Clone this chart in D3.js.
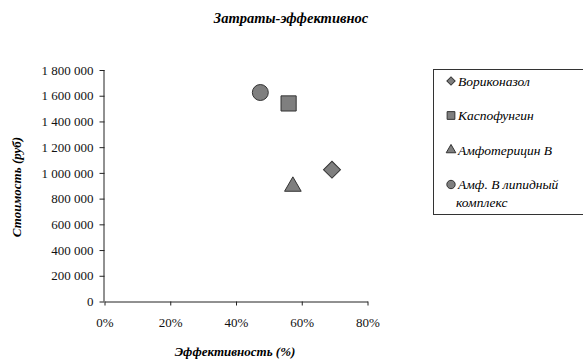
<!DOCTYPE html>
<html>
<head>
<meta charset="utf-8">
<script src="https://cdn.jsdelivr.net/npm/d3@7"></script>
<style>
    body { margin: 0; background: #fff; }
</style>
</head>
<body>
<svg id="chart" width="583" height="361"></svg>
<script>
;(function () {
    // data
    const drugs = ["Вориконазол", "Каспофунгин", "Амфотерицин В", "Амф. В липидный комплекс"]
    const effectiveness = [0.692, 0.560, 0.573, 0.474]
    const cost = [1025000, 1540000, 910000, 1625000]
    const shapes = ["diamond", "square", "triangle", "circle"]
    const xTicks = [0, 0.2, 0.4, 0.6, 0.8]
    const yTicks = [0, 200000, 400000, 600000, 800000, 1000000, 1200000, 1400000, 1600000, 1800000]

    const serif = "Times New Roman, Liberation Serif, Times, serif"
    const svg = d3.select("#chart").attr("font-family", serif)

    const xPositionScale = d3.scaleLinear().domain([0, 0.8]).range([104.5, 367.5])
    const yPositionScale = d3.scaleLinear().domain([0, 1800000]).range([301.5, 70])

    const ru = d3.formatLocale({ decimal: ",", thousands: "\u00a0", grouping: [3], currency: ["", " руб."] })
    const fmtCost = ru.format(",.0f")

    const symbolFor = {
        diamond: d3.symbolSquare,
        square: d3.symbolSquare,
        triangle: d3.symbolTriangle,
        circle: d3.symbolCircle
    }
    const bigSize = { diamond: 144, square: 230, triangle: 120, circle: 200 }
    const smallSize = { diamond: 34, square: 60, triangle: 40, circle: 55 }
    const rotation = { diamond: 45, square: 0, triangle: 0, circle: 0 }

    // title
    svg.append("text")
        .attr("x", 291)
        .attr("y", 23)
        .attr("text-anchor", "middle")
        .attr("font-family", serif)
        .attr("font-size", 14.5)
        .attr("font-weight", "bold")
        .attr("font-style", "italic")
        .text("Затраты-эффективнос")

    // axes
    const yAxis = svg.append("g")
        .attr("class", "axis y-axis")
        .attr("transform", `translate(${xPositionScale(0)},0)`)
        .call(d3.axisLeft(yPositionScale).tickValues(yTicks).tickFormat(fmtCost).tickSizeInner(5).tickSizeOuter(0).tickPadding(6))
    yAxis.select(".domain").attr("d", `M-0.5,${yPositionScale(0)}V${yPositionScale(1800000)}`)

    const xAxis = svg.append("g")
        .attr("class", "axis x-axis")
        .attr("transform", `translate(0,${yPositionScale(0)})`)
        .call(d3.axisBottom(xPositionScale).tickValues(xTicks).tickFormat(d3.format(".0%")).tickSizeInner(4).tickSizeOuter(0).tickPadding(12))

    svg.selectAll(".axis")
        .attr("font-family", serif)
        .attr("font-size", 13)
    svg.selectAll(".axis .domain, .axis line").attr("stroke", "#222")
    svg.selectAll(".axis text").attr("fill", "#111")

    // axis titles
    svg.append("text")
        .attr("transform", "translate(21,187) rotate(-90)")
        .attr("text-anchor", "middle")
        .attr("font-size", 13)
        .attr("font-weight", "bold")
        .attr("font-style", "italic")
        .text("Стоимость (руб)")

    svg.append("text")
        .attr("x", 235)
        .attr("y", 356)
        .attr("text-anchor", "middle")
        .attr("font-size", 13)
        .attr("font-weight", "bold")
        .attr("font-style", "italic")
        .text("Эффективность (%)")

    // points
    svg.selectAll(".point")
        .data(drugs)
        .enter()
        .append("path")
        .attr("class", "point")
        .attr("d", (d, i) => d3.symbol().type(symbolFor[shapes[i]]).size(bigSize[shapes[i]])())
        .attr("transform", (d, i) => {
            const dy = shapes[i] === "triangle" ? 2 : 0
            return `translate(${xPositionScale(effectiveness[i])},${yPositionScale(cost[i]) + dy}) rotate(${rotation[shapes[i]]})`
        })
        .attr("fill", "#7f7f7f")
        .attr("stroke", "#333")
        .attr("stroke-width", 1)

    // legend
    const legend = svg.append("g").attr("transform", "translate(433,69)")
    legend.append("rect")
        .attr("x", 0.5)
        .attr("y", 0.5)
        .attr("width", 170)
        .attr("height", 145)
        .attr("fill", "none")
        .attr("stroke", "#333")

    const rows = legend.selectAll(".row")
        .data(drugs)
        .enter()
        .append("g")
        .attr("class", "row")
        .attr("transform", (d, i) => `translate(0,${12 + i * 34.5})`)

    rows.append("path")
        .attr("d", (d, i) => d3.symbol().type(symbolFor[shapes[i]]).size(smallSize[shapes[i]])())
        .attr("transform", (d, i) => `translate(18,0) rotate(${rotation[shapes[i]]})`)
        .attr("fill", "#7f7f7f")
        .attr("stroke", "#333")

    rows.append("text")
        .attr("x", 25)
        .attr("y", 4.5)
        .attr("font-size", 13.5)
        .attr("font-style", "italic")
        .each(function (d) {
            const words = d === "Амф. В липидный комплекс" ? ["Амф. В липидный", "комплекс"] : [d]
            const t = d3.select(this)
            words.forEach((w, j) => {
                t.append("tspan")
                    .attr("x", j === 0 ? 25 : 23)
                    .attr("dy", j === 0 ? 0 : 18)
                    .text(w)
            })
        })
})()
</script>
</body>
</html>
